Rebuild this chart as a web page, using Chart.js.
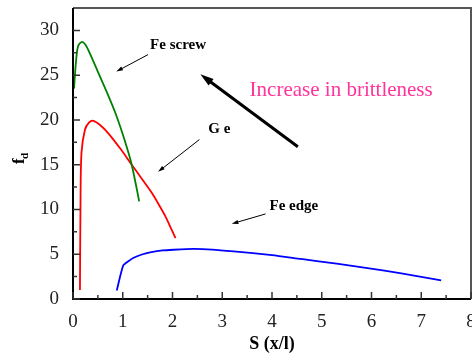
<!DOCTYPE html>
<html>
<head>
<meta charset="utf-8">
<script src="https://cdn.jsdelivr.net/npm/chart.js@4"></script>
<style>
  body { margin: 0; background: #fff; }
  #wrap { width: 472px; height: 359px; }
</style>
</head>
<body>
<div id="wrap"><canvas id="chart1"></canvas></div>
<script>
// Fe screw dislocation curve (green)
let screwX = [0.02, 0.06, 0.10, 0.17, 0.25, 0.35, 0.51, 0.68, 0.85, 1.00, 1.10, 1.18, 1.26, 1.33];
let screwY = [23.5, 26.5, 28.2, 28.7, 28.4, 27.3, 25.25, 23.1, 20.8, 18.4, 16.6, 15.0, 12.9, 10.9];

// Ge curve (red)
let geX = [0.14, 0.15, 0.17, 0.24, 0.32, 0.41, 0.55, 0.71, 0.95, 1.18, 1.40, 1.59, 1.75, 1.86, 1.96, 2.06];
let geY = [1.0, 10.0, 16.3, 18.9, 19.7, 19.9, 19.4, 18.5, 16.8, 15.0, 13.3, 11.8, 10.3, 9.2, 8.0, 6.8];

// Fe edge dislocation curve (blue)
let edgeX = [0.88, 1.01, 1.12, 1.21, 1.40, 1.55, 1.80, 2.02, 2.42, 2.80, 3.23, 4.00, 4.58, 5.30, 5.92, 6.60, 7.40];
let edgeY = [0.96, 3.75, 4.25, 4.58, 5.00, 5.20, 5.42, 5.50, 5.59, 5.52, 5.32, 4.90, 4.47, 3.95, 3.46, 2.85, 2.08];

// tick values
let xTicks = [0, 1, 2, 3, 4, 5, 6, 7, 8];
let xMinor = [0.5, 1.5, 2.5, 3.5, 4.5, 5.5, 6.5, 7.5];
let yTicks = [0, 5, 10, 15, 20, 25, 30];
let yMinor = [2.5, 7.5, 12.5, 17.5, 22.5, 27.5];

function pts(xs, ys) {
  return xs.map((x, i) => ({ x: x, y: ys[i] }));
}

let serif = '"Liberation Serif", "DejaVu Serif", serif';

// draws an arrow with a filled head
function arrow(ctx, x1, y1, x2, y2, w, head) {
  let a = Math.atan2(y2 - y1, x2 - x1);
  ctx.save();
  ctx.strokeStyle = '#000';
  ctx.fillStyle = '#000';
  ctx.lineWidth = w;
  ctx.beginPath();
  ctx.moveTo(x1, y1);
  ctx.lineTo(x2 - Math.cos(a) * head * 0.8, y2 - Math.sin(a) * head * 0.8);
  ctx.stroke();
  ctx.beginPath();
  ctx.moveTo(x2, y2);
  ctx.lineTo(x2 - head * Math.cos(a - 0.3), y2 - head * Math.sin(a - 0.3));
  ctx.lineTo(x2 - head * Math.cos(a + 0.3), y2 - head * Math.sin(a + 0.3));
  ctx.closePath();
  ctx.fill();
  ctx.restore();
}

// no extra room for the end tick labels
function noPad(s) {
  s.paddingTop = 0;
  s.paddingBottom = 0;
  s.paddingLeft = 0;
  s.paddingRight = 0;
}

// box, inward ticks, labels and arrows
let extras = {
  id: 'extras',
  afterDraw(chart) {
    let ctx = chart.ctx;
    let xs = chart.scales.x, ys = chart.scales.y;
    let a = chart.chartArea;
    let px = v => xs.getPixelForValue(v);
    let py = v => ys.getPixelForValue(v);

    ctx.save();
    // frame
    ctx.strokeStyle = '#555';
    ctx.lineWidth = 2;
    ctx.beginPath();
    ctx.moveTo(a.left, a.top);
    ctx.lineTo(a.right, a.top);
    ctx.lineTo(a.right, a.bottom);
    ctx.stroke();
    ctx.strokeStyle = '#000';
    ctx.beginPath();
    ctx.moveTo(a.left, a.top);
    ctx.lineTo(a.left, a.bottom);
    ctx.lineTo(a.right, a.bottom);
    ctx.stroke();

    // ticks pointing inwards
    ctx.lineWidth = 1.5;
    ctx.strokeStyle = '#333';
    ctx.beginPath();
    xTicks.forEach(v => { ctx.moveTo(px(v), a.bottom); ctx.lineTo(px(v), a.bottom - 7); });
    xMinor.forEach(v => { ctx.moveTo(px(v), a.bottom); ctx.lineTo(px(v), a.bottom - 4); });
    yTicks.forEach(v => { ctx.moveTo(a.left, py(v)); ctx.lineTo(a.left + 7, py(v)); });
    yMinor.forEach(v => { ctx.moveTo(a.left, py(v)); ctx.lineTo(a.left + 4, py(v)); });
    ctx.stroke();

    // y axis title f_d, rotated
    ctx.translate(20, 158);
    ctx.rotate(-Math.PI / 2);
    ctx.fillStyle = '#000';
    ctx.font = 'bold 17px ' + serif;
    ctx.textBaseline = 'middle';
    ctx.textAlign = 'left';
    ctx.fillText('f', -6, 0);
    ctx.font = 'bold 11px ' + serif;
    ctx.fillText('d', -1, 5);
    ctx.restore();

    // curve labels
    ctx.save();
    ctx.fillStyle = '#000';
    ctx.font = 'bold 15px ' + serif;
    ctx.textBaseline = 'middle';
    ctx.fillText('Fe screw', px(1.55), py(28.4));
    ctx.fillText('G e', px(2.72), py(19.0));
    ctx.fillText('Fe edge', px(3.95), py(10.4));
    ctx.fillStyle = '#ff3399';
    ctx.font = '21px ' + serif;
    ctx.fillText('Increase in brittleness', px(3.55), py(23.3));
    ctx.restore();

    arrow(ctx, px(1.51), py(27.3), px(0.87), py(25.4), 1, 7);
    arrow(ctx, px(2.54), py(17.8), px(1.71), py(14.2), 1, 7);
    arrow(ctx, px(3.87), py(9.5), px(3.19), py(8.4), 1, 7);
    arrow(ctx, px(4.52), py(17.0), px(2.56), py(25.1), 3, 14);
  }
};

let options = {
  type: 'scatter',
  data: {
    datasets: [
      { label: 'Fe screw', data: pts(screwX, screwY), borderColor: '#008000', tension: 0.3 },
      { label: 'Ge', data: pts(geX, geY), borderColor: '#ff0000', tension: 0.3 },
      { label: 'Fe edge', data: pts(edgeX, edgeY), borderColor: '#0000ff', tension: 0.2 }
    ]
  },
  options: {
    responsive: true,
    maintainAspectRatio: false,
    animation: false,
    showLine: true,
    elements: {
      point: { radius: 0 },
      line: { borderWidth: 1.8, fill: false }
    },
    layout: { padding: { top: 8, right: 1 } },
    plugins: {
      legend: { display: false },
      tooltip: { enabled: false }
    },
    scales: {
      x: {
        type: 'linear',
        min: 0,
        max: 8,
        afterFit: s => { s.height = 60; noPad(s); },
        afterBuildTicks: s => { s.ticks = xTicks.map(v => ({ value: v })); },
        grid: { display: false },
        border: { display: false },
        ticks: { color: '#222', font: { family: serif, size: 19 }, padding: 4 },
        title: {
          display: true,
          text: 'S (x/l)',
          color: '#000',
          font: { family: serif, size: 18, weight: 'bold' },
          padding: { top: 0 }
        }
      },
      y: {
        type: 'linear',
        min: 0,
        max: 32.5,
        afterFit: s => { s.width = 73; noPad(s); },
        afterBuildTicks: s => { s.ticks = yTicks.map(v => ({ value: v })); },
        grid: { display: false },
        border: { display: false },
        ticks: { color: '#222', font: { family: serif, size: 19 }, padding: 6 }
      }
    }
  },
  plugins: [extras]
};

let chart = new Chart(document.getElementById('chart1'), options);
</script>
</body>
</html>
